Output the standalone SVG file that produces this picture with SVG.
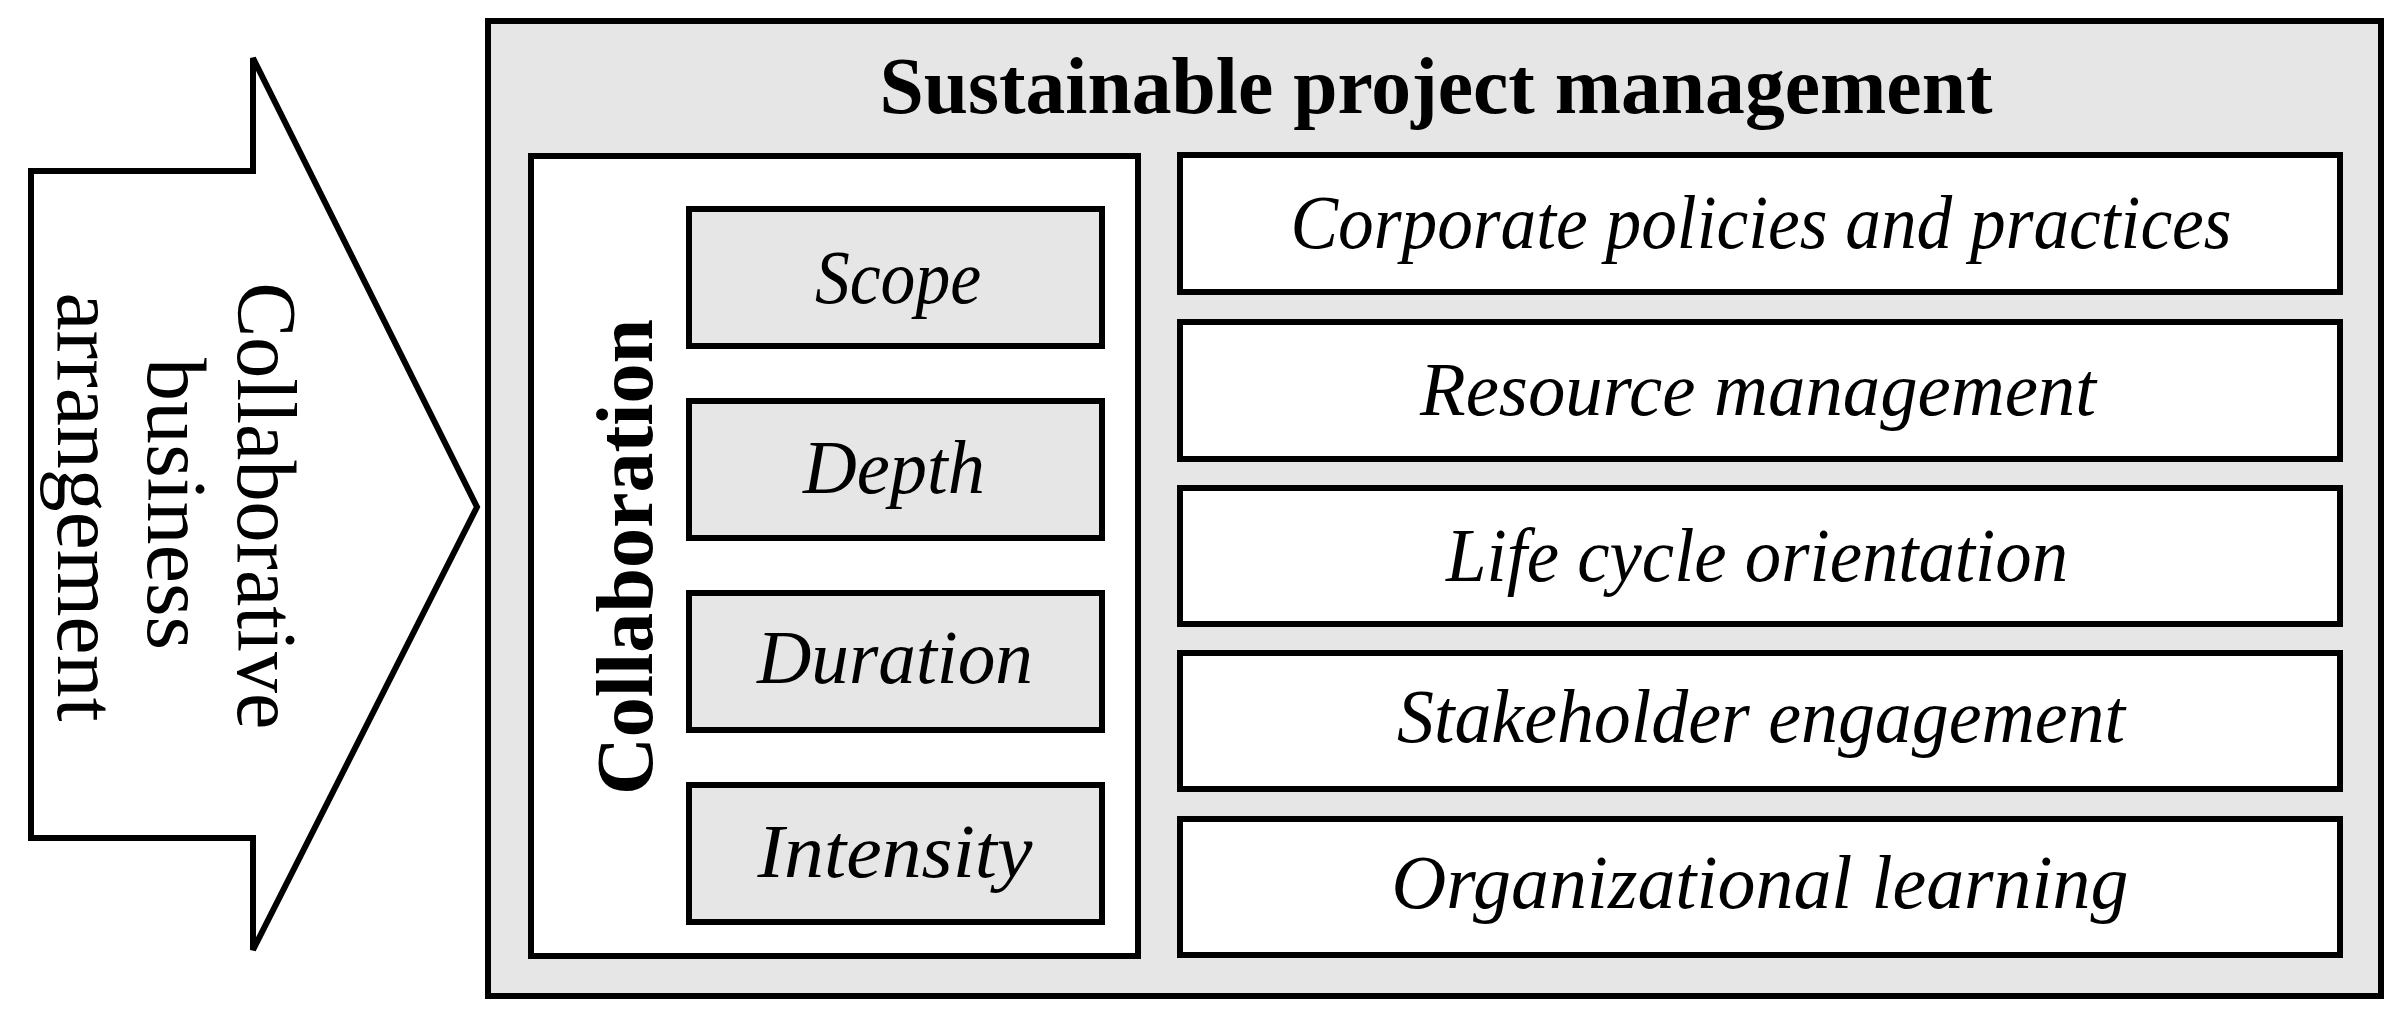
<svg xmlns="http://www.w3.org/2000/svg" width="2402" height="1026" viewBox="0 0 2402 1026">
<style>
.box{stroke:#000;stroke-width:6;}
.gray{fill:#e6e6e6;}
.white{fill:#fff;}
.t{font-family:"Liberation Serif","Times New Roman",serif;fill:#000;text-anchor:middle;}
.b{font-weight:bold;font-size:80px;}
.i{font-style:italic;font-size:76px;}
.r{font-size:85px;}
</style>
<rect x="0" y="0" width="2402" height="1026" fill="#fff"/>
<g id="arrow">
<polygon class="box white" stroke-linejoin="miter" points="31,171 253,171 253,58 477,507 253,950 253,838 31,838"/>
<text class="t r" transform="translate(238,506) rotate(90)" x="0" y="0" textLength="447" lengthAdjust="spacingAndGlyphs">Collaborative</text>
<text class="t r" transform="translate(148,504) rotate(90)" x="0" y="0" textLength="292" lengthAdjust="spacingAndGlyphs">business</text>
<text class="t r" transform="translate(58,507) rotate(90)" x="0" y="0" textLength="429" lengthAdjust="spacingAndGlyphs">arrangement</text>
</g>
<g id="spm">
<rect class="box gray" x="488" y="21" width="1893" height="975"/>
<text class="t b" x="1436" y="113" textLength="1113" lengthAdjust="spacingAndGlyphs">Sustainable project management</text>
</g>
<g id="collaboration">
<rect class="box white" x="531" y="156" width="607" height="800"/>
<text class="t b" transform="translate(652,557) rotate(-90)" x="0" y="0" textLength="476" lengthAdjust="spacingAndGlyphs">Collaboration</text>
</g>
<g id="scope">
<rect class="box gray" x="689" y="209" width="413" height="137"/>
<text class="t i" x="898" y="303" textLength="166" lengthAdjust="spacingAndGlyphs">Scope</text>
</g>
<g id="depth">
<rect class="box gray" x="689" y="401" width="413" height="137"/>
<text class="t i" x="894" y="493" textLength="182" lengthAdjust="spacingAndGlyphs">Depth</text>
</g>
<g id="duration">
<rect class="box gray" x="689" y="593" width="413" height="137"/>
<text class="t i" x="895" y="683" textLength="276" lengthAdjust="spacingAndGlyphs">Duration</text>
</g>
<g id="intensity">
<rect class="box gray" x="689" y="785" width="413" height="137"/>
<text class="t i" x="895" y="877" textLength="275" lengthAdjust="spacingAndGlyphs">Intensity</text>
</g>
<g id="corporate">
<rect class="box white" x="1180" y="155" width="1160" height="137"/>
<text class="t i" x="1761" y="248" textLength="941" lengthAdjust="spacingAndGlyphs">Corporate policies and practices</text>
</g>
<g id="resource">
<rect class="box white" x="1180" y="322" width="1160" height="137"/>
<text class="t i" x="1758" y="415" textLength="676" lengthAdjust="spacingAndGlyphs">Resource management</text>
</g>
<g id="lifecycle">
<rect class="box white" x="1180" y="488" width="1160" height="136"/>
<text class="t i" x="1757" y="581" textLength="622" lengthAdjust="spacingAndGlyphs">Life cycle orientation</text>
</g>
<g id="stakeholder">
<rect class="box white" x="1180" y="653" width="1160" height="136"/>
<text class="t i" x="1761" y="742" textLength="728" lengthAdjust="spacingAndGlyphs">Stakeholder engagement</text>
</g>
<g id="learning">
<rect class="box white" x="1180" y="819" width="1160" height="136"/>
<text class="t i" x="1760" y="908" textLength="737" lengthAdjust="spacingAndGlyphs">Organizational learning</text>
</g>
<g id="connectors"></g>
</svg>
